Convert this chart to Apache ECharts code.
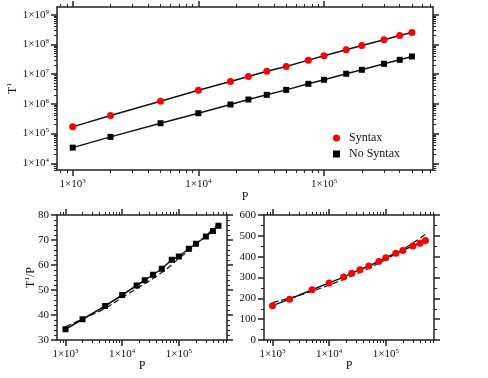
<!DOCTYPE html>
<html>
<head>
<meta charset="utf-8">
<script src="https://cdn.jsdelivr.net/npm/echarts@6/dist/echarts.min.js"></script>
<style>
  html, body { margin: 0; padding: 0; background: #fff; }
  #chart { width: 488px; height: 378px; }
</style>
</head>
<body>
<div id="chart"></div>
<script>
// problem size P
const P = [1000, 2000, 5000, 10000, 18000, 25000, 35000, 50000, 75000, 100000, 150000, 200000, 300000, 400000, 500000];
// T^1, top panel
const syntaxT = [1.68e5, 4.05e5, 1.23e6, 2.89e6, 5.66e6, 8.35e6, 1.26e7, 1.81e7, 2.96e7, 4.15e7, 6.61e7, 9.25e7, 1.44e8, 2.01e8, 2.54e8];
const noSyntaxT = [3.37e4, 7.73e4, 2.23e5, 4.84e5, 9.5e5, 1.40e6, 2.01e6, 2.96e6, 4.72e6, 6.44e6, 1.03e7, 1.40e7, 2.23e7, 3.04e7, 3.94e7];
// T^1/P, bottom panels
const noSyntaxRatio = [34.3, 38.3, 43.6, 48.0, 51.8, 53.9, 56.1, 58.5, 62.1, 63.4, 66.5, 68.5, 71.4, 73.6, 75.7];
const syntaxRatio = [165, 196, 241, 274, 302, 321, 337, 355, 377, 395, 417, 430, 451, 465, 478];
// dashed fit curves
const fitP = [1000, 2000, 5000, 10000, 20000, 50000, 100000, 200000, 500000];
const noSyntaxFit = [35.3, 38.4, 42.7, 47.0, 51.2, 57.0, 62.6, 68.1, 76.5];
const syntaxFit = [180, 201, 234, 264, 296, 345, 387, 434, 507];
// tick labels
const xDecades = [1e3, 1e4, 1e5];
const yDecades = [1e4, 1e5, 1e6, 1e7, 1e8, 1e9];

const FONT = 'Liberation Serif';
const INK = '#111';

function minorLog(lo, hi) {
  const out = [];
  for (let e = lo; e <= hi; e++) {
    for (let m = 2; m <= 9; m++) out.push(m * Math.pow(10, e));
  }
  return out;
}
const xMinor = minorLog(2, 5);
const yMinor = minorLog(3, 9);

const supRich = { sup: { fontSize: 7, fontFamily: FONT, color: INK, verticalAlign: 'bottom', padding: [0, 0, 6, 0] } };
const powLabel = v => '1×10{sup|' + Math.round(Math.log10(v)) + '}';

const lineStyle = { color: '#222', width: 1.5 };
const nameStyle = { fontFamily: FONT, fontSize: 12, color: INK, rich: { sup: { fontSize: 7, fontFamily: FONT, color: INK, padding: [0, 0, 6, 0] } } };

// four-sided log axis set (major + minor on both sides)
function logAxes(grid, min, max, majors, minors, sides, name, nameGap, rotate) {
  const axes = [];
  sides.forEach((pos, i) => {
    const main = i === 0;
    axes.push({
      type: 'log', gridIndex: grid, position: pos, min: min, max: max,
      axisLine: { show: true, lineStyle: lineStyle },
      axisTick: { show: true, inside: false, length: 6, lineStyle: lineStyle, customValues: majors },
      axisLabel: main ? {
        show: true, customValues: majors, formatter: powLabel, margin: 8,
        fontFamily: FONT, fontSize: 11, color: INK, rich: supRich
      } : { show: false },
      splitLine: { show: false },
      name: main ? name : '',
      nameLocation: 'middle', nameGap: nameGap, nameRotate: rotate, nameMoveOverlap: false,
      nameTextStyle: nameStyle
    });
    axes.push({
      type: 'log', gridIndex: grid, position: pos, min: min, max: max,
      axisLine: { show: false },
      axisTick: { show: true, inside: false, length: 3, lineStyle: { color: '#222', width: 1 }, customValues: minors },
      axisLabel: { show: false },
      splitLine: { show: false }
    });
  });
  return axes;
}

function valueAxes(grid, min, max, interval, split, name) {
  return ['left', 'right'].map((pos, i) => ({
    type: 'value', gridIndex: grid, position: pos, min: min, max: max, interval: interval,
    axisLine: { show: true, lineStyle: lineStyle },
    axisTick: { show: true, inside: false, length: 6, lineStyle: lineStyle },
    minorTick: { show: true, splitNumber: split, length: 3, lineStyle: { color: '#222', width: 1 } },
    axisLabel: i === 0 ? { show: true, margin: 8, fontFamily: FONT, fontSize: 11, color: INK } : { show: false },
    splitLine: { show: false },
    name: i === 0 ? name : '',
    nameLocation: 'middle', nameGap: 20, nameRotate: 90, nameMoveOverlap: false,
    nameTextStyle: nameStyle
  }));
}

const topX = logAxes(0, 750, 736000, xDecades, xMinor, ['bottom', 'top'], 'P', 21, 0);
const leftX = logAxes(1, 708, 708000, xDecades, xMinor, ['bottom', 'top'], 'P', 20, 0);
const rightX = logAxes(2, 708, 708000, xDecades, xMinor, ['bottom', 'top'], 'P', 20, 0);
const xAxes = topX.concat(leftX, rightX);
const topY = logAxes(0, 5940, 1.82e9, yDecades, yMinor, ['left', 'right'], 'T{sup|1}', 38, 90);
const yAxes = topY.concat(valueAxes(1, 30, 80, 10, 5, 'T{sup|1}/P'), valueAxes(2, 0, 600, 100, 2, ''));

const pairs = (xs, ys) => xs.map((x, i) => [x, ys[i]]);

const option = {
  animation: false,
  backgroundColor: '#fff',
  grid: [
    { left: 57, top: 7, width: 376, height: 163, outerBoundsMode: 'none', containLabel: false },
    { left: 57, top: 215, width: 170, height: 125, outerBoundsMode: 'none', containLabel: false },
    { left: 264, top: 215, width: 170, height: 125, outerBoundsMode: 'none', containLabel: false }
  ],
  xAxis: xAxes,
  yAxis: yAxes,
  legend: {
    data: [{ name: 'Syntax', icon: 'circle' }, { name: 'No Syntax', icon: 'rect' }],
    orient: 'vertical', left: 328, top: 127, itemGap: 4,
    itemWidth: 7, itemHeight: 7,
    textStyle: { fontFamily: FONT, fontSize: 12, color: INK, padding: [0, 0, 0, 4] }
  },
  series: [
    {
      name: 'Syntax', type: 'line', xAxisIndex: 0, yAxisIndex: 0,
      data: pairs(P, syntaxT), symbol: 'circle', symbolSize: 7,
      itemStyle: { color: '#ff0000' }, lineStyle: { color: '#111', width: 1.5 }
    },
    {
      name: 'No Syntax', type: 'line', xAxisIndex: 0, yAxisIndex: 0,
      data: pairs(P, noSyntaxT), symbol: 'rect', symbolSize: 6,
      itemStyle: { color: '#000' }, lineStyle: { color: '#111', width: 1.5 }
    },
    {
      name: 'No Syntax fit', type: 'line', xAxisIndex: 4, yAxisIndex: 4,
      data: pairs(fitP, noSyntaxFit), showSymbol: false, smooth: true, z: 1,
      lineStyle: { color: '#111', width: 1.2, type: [6, 3] }
    },
    {
      name: 'No Syntax ratio', type: 'line', xAxisIndex: 4, yAxisIndex: 4,
      data: pairs(P, noSyntaxRatio), symbol: 'rect', symbolSize: 6,
      itemStyle: { color: '#000' }, lineStyle: { color: '#111', width: 1.5 }
    },
    {
      name: 'Syntax fit', type: 'line', xAxisIndex: 8, yAxisIndex: 6,
      data: pairs(fitP, syntaxFit), showSymbol: false, smooth: true, z: 1,
      lineStyle: { color: '#111', width: 1.2, type: [6, 3] }
    },
    {
      name: 'Syntax ratio', type: 'line', xAxisIndex: 8, yAxisIndex: 6,
      data: pairs(P, syntaxRatio), symbol: 'circle', symbolSize: 7,
      itemStyle: { color: '#ff0000' }, lineStyle: { color: '#111', width: 1.5 }
    }
  ]
};

const chart = echarts.init(document.getElementById('chart'), null, { renderer: 'canvas' });
chart.setOption(option);
</script>
</body>
</html>
